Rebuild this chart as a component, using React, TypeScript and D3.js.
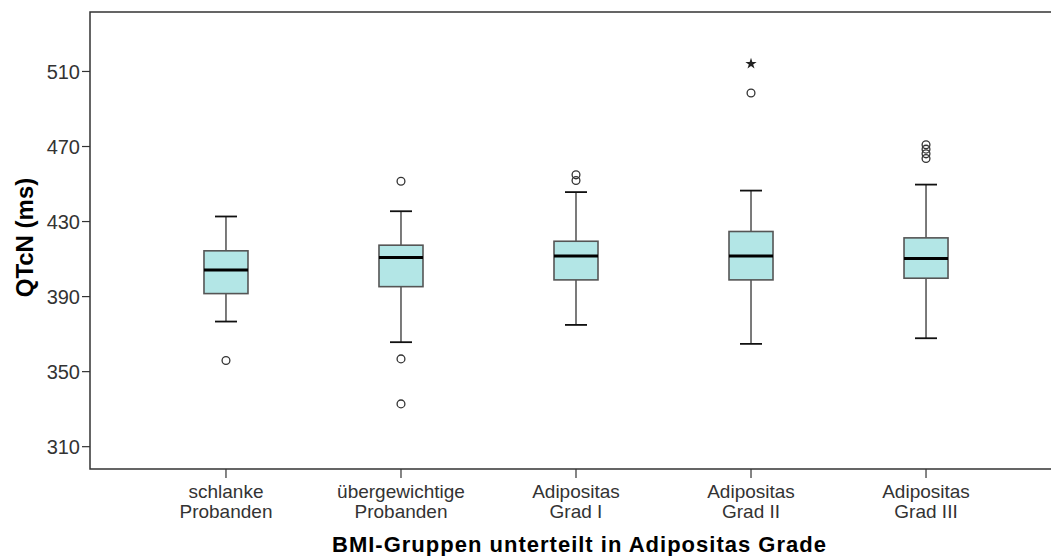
import * as d3 from 'd3';
import { useEffect, useRef } from 'react';

const categories = ['schlanke\nProbanden', 'übergewichtige\nProbanden', 'Adipositas\nGrad I', 'Adipositas\nGrad II', 'Adipositas\nGrad III'];
const whiskerLow = [376.7, 365.7, 374.9, 364.8, 367.8];
const q1 = [391.6, 395.3, 398.9, 398.9, 399.8];
const median = [404.2, 410.8, 411.7, 411.7, 410.3];
const q3 = [414.4, 417.4, 419.5, 424.7, 421.3];
const whiskerHigh = [432.7, 435.5, 445.7, 446.5, 449.7];
const outliers = [[355.9], [451.5, 356.8, 332.8], [454.9, 451.9], [498.5], [470.9, 468.6, 466.1, 463.6]];
const extremes = [[], [], [], [514.1], []];
const yTicks = [310, 350, 390, 430, 470, 510];

export default function App() {
  const ref = useRef<SVGSVGElement>(null);

  useEffect(() => {
    const width = 1051;
    const height = 556;
    const left = 90, top = 12, bottom = 469;

    const svg = d3.select(ref.current);
    svg.selectAll('*').remove();
    svg.attr('width', width).attr('height', height);

    const y = d3.scaleLinear().domain([298.1, 541.7]).range([bottom, top]);
    const x = d3.scalePoint().domain(categories).range([left, 1062]).padding(0.777);

    const boxW = 44;
    const capW = 22;
    const font = 'Arial, "Liberation Sans", sans-serif';

    // frame (right side is cut off by the image)
    svg.append('path')
      .attr('d', `M${width},${top}H${left}V${bottom}H${width}`)
      .attr('fill', 'none')
      .attr('stroke', '#333')
      .attr('stroke-width', 1.5);

    // y axis ticks
    const yg = svg.append('g');
    yTicks.forEach((t) => {
      yg.append('line')
        .attr('x1', left - 8).attr('x2', left)
        .attr('y1', y(t)).attr('y2', y(t))
        .attr('stroke', '#333').attr('stroke-width', 1.2);
      yg.append('text')
        .attr('x', left - 10).attr('y', y(t))
        .attr('dy', '0.37em')
        .attr('text-anchor', 'end')
        .style('font-family', font)
        .style('font-size', '20px')
        .style('fill', '#333')
        .text(t);
    });

    // x axis ticks + labels
    categories.forEach((c) => {
      const cx = x(c)!;
      svg.append('line')
        .attr('x1', cx).attr('x2', cx)
        .attr('y1', bottom).attr('y2', bottom + 9)
        .attr('stroke', '#333').attr('stroke-width', 1.2);
      c.split('\n').forEach((l, i) => {
        svg.append('text')
          .attr('x', cx).attr('y', 497.5 + i * 20)
          .attr('text-anchor', 'middle')
          .style('font-family', font)
          .style('font-size', '19px')
          .style('fill', '#333')
          .text(l);
      });
    });

    // boxes
    categories.forEach((c, i) => {
      const cx = x(c)!;
      const g = svg.append('g');
      g.append('line')
        .attr('x1', cx).attr('x2', cx)
        .attr('y1', y(whiskerHigh[i])).attr('y2', y(q3[i]))
        .attr('stroke', '#222').attr('stroke-width', 1.2);
      g.append('line')
        .attr('x1', cx).attr('x2', cx)
        .attr('y1', y(q1[i])).attr('y2', y(whiskerLow[i]))
        .attr('stroke', '#222').attr('stroke-width', 1.2);
      [whiskerHigh[i], whiskerLow[i]].forEach((v) => {
        g.append('line')
          .attr('x1', cx - capW / 2).attr('x2', cx + capW / 2)
          .attr('y1', y(v)).attr('y2', y(v))
          .attr('stroke', '#111').attr('stroke-width', 1.8);
      });
      g.append('rect')
        .attr('x', cx - boxW / 2).attr('width', boxW)
        .attr('y', y(q3[i])).attr('height', y(q1[i]) - y(q3[i]))
        .attr('fill', '#b3e6e6')
        .attr('stroke', '#555').attr('stroke-width', 1.6);
      g.append('line')
        .attr('x1', cx - boxW / 2).attr('x2', cx + boxW / 2)
        .attr('y1', y(median[i])).attr('y2', y(median[i]))
        .attr('stroke', '#000').attr('stroke-width', 3);

      outliers[i].forEach((v) => {
        g.append('circle')
          .attr('cx', cx).attr('cy', y(v)).attr('r', 3.9)
          .attr('fill', 'none')
          .attr('stroke', '#333').attr('stroke-width', 1.3);
      });
      extremes[i].forEach((v) => {
        g.append('path')
          .attr('d', d3.symbol(d3.symbolStar, 40)())
          .attr('transform', `translate(${cx},${y(v)})`)
          .attr('fill', '#222');
      });
    });

    // axis titles
    svg.append('text')
      .attr('transform', `translate(33,237.5) rotate(-90)`)
      .attr('text-anchor', 'middle')
      .style('font-family', font)
      .style('font-size', '24px')
      .style('font-weight', 'bold')
      .style('fill', '#000')
      .text('QTcN (ms)');

    svg.append('text')
      .attr('x', 579).attr('y', 552)
      .attr('text-anchor', 'middle')
      .attr('textLength', 494)
      .attr('lengthAdjust', 'spacing')
      .style('font-family', font)
      .style('font-size', '22px')
      .style('font-weight', 'bold')
      .style('fill', '#000')
      .text('BMI-Gruppen unterteilt in Adipositas Grade');
  }, []);

  return (
    <div style={{ position: 'fixed', left: 0, top: 0, background: '#fff' }}>
      <svg ref={ref} style={{ display: 'block' }}></svg>
    </div>
  );
}
